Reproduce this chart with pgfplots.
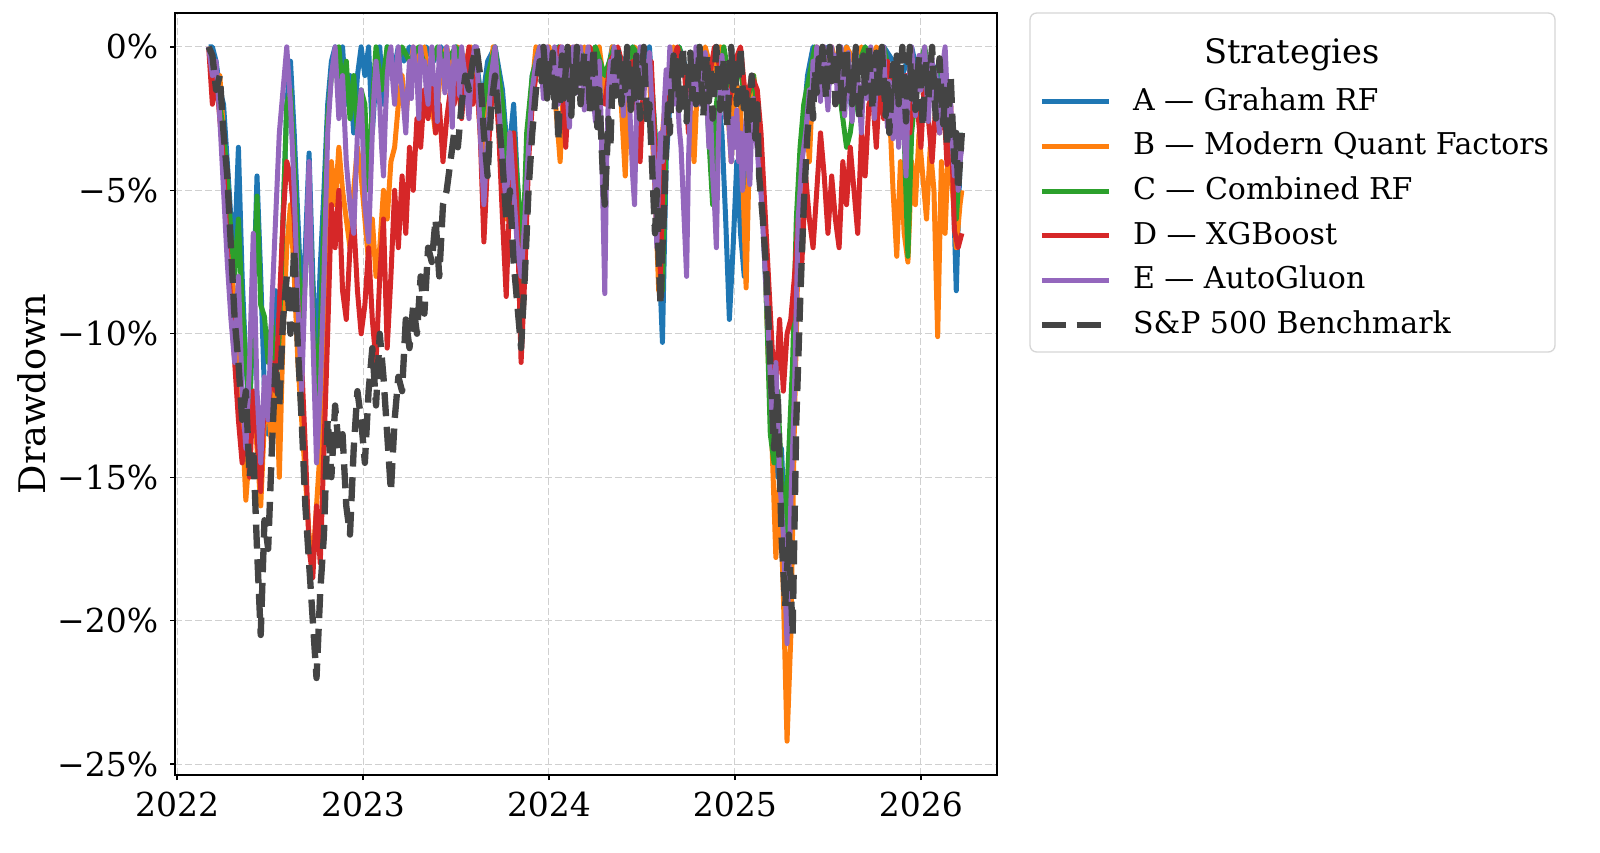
\documentclass[border=0pt]{standalone}
\usepackage{fontspec}
\setmainfont{DejaVu Serif}
\usepackage{pgfplots}
\pgfplotsset{compat=1.18}
\definecolor{cA}{HTML}{1F77B4}
\definecolor{cB}{HTML}{FF7F0E}
\definecolor{cC}{HTML}{2CA02C}
\definecolor{cD}{HTML}{D62728}
\definecolor{cE}{HTML}{9467BD}
\definecolor{cS}{HTML}{444444}
\definecolor{gridc}{HTML}{D0D0D0}
\definecolor{legc}{HTML}{D6D6D6}
\begin{document}
\begin{tikzpicture}
\path[use as bounding box] (-52.5pt,-23.1pt) rectangle (427.5pt,232.5pt);
\begin{axis}[
  scale only axis, width=246.6pt, height=228.6pt,
  xmin=2021.989, xmax=2026.409, ymin=-25.38, ymax=1.18,
  xtick={2022,2023,2024,2025,2026}, xticklabels={2022,2023,2024,2025,2026},
  ytick={-25,-20,-15,-10,-5,0},
  yticklabels={−25\%,−20\%,−15\%,−10\%,−5\%,0\%},
  tick label style={font=\fontsize{9.9}{11}\selectfont},
  tick align=outside, major tick length=1.5pt,
  tick style={black, line width=0.4pt},
  xtick pos=bottom, ytick pos=left,
  axis line style={black, line width=0.5pt},
  grid=major, major grid style={draw=gridc, dash pattern=on 2pt off 1pt, line width=0.3pt},
  ylabel={Drawdown},
  ylabel style={at={(axis description cs:-0.174,0.5)}, anchor=center, font=\fontsize{11}{13}\selectfont},
  legend cell align=left,
  legend image code/.code={\draw[#1] (0pt,0pt) -- (20.1pt,0pt);},
  legend style={at={(rel axis cs:1.0499,0.9064)}, anchor=north west, draw=none, fill=none,
    inner sep=0pt, row sep=3.4pt, font=\fontsize{9.0}{11}\selectfont,
    nodes={inner sep=0pt, text height=7.5pt, text depth=2.5pt},
    /tikz/every odd column/.append style={column sep=6.3pt}},
  every axis plot/.append style={line join=round, mark=none},
]
\addplot[cA, line width=1.5pt] coordinates {
(2022.17,0) (2022.19,0) (2022.21,-0.5) (2022.23,-1.5) (2022.25,-2) (2022.27,-4) (2022.29,-6) (2022.31,-7)
(2022.33,-3.5) (2022.35,-8) (2022.37,-11) (2022.39,-13) (2022.41,-9) (2022.43,-4.5) (2022.45,-8) (2022.47,-12)
(2022.49,-13.5) (2022.51,-11) (2022.53,-8.5) (2022.55,-10) (2022.57,-6) (2022.59,-2) (2022.61,-0.5) (2022.63,-3)
(2022.65,-6) (2022.67,-9) (2022.69,-7) (2022.71,-3.7) (2022.73,-8) (2022.75,-11) (2022.77,-7.7) (2022.79,-5)
(2022.81,-2) (2022.83,-0.5) (2022.85,0) (2022.87,-1.5) (2022.89,0) (2022.91,-2) (2022.93,-1) (2022.95,-3)
(2022.97,-1) (2022.99,0) (2023.01,-1) (2023.03,0) (2023.05,-3) (2023.07,-1) (2023.09,0) (2023.11,-2)
(2023.13,0) (2023.16,-1) (2023.19,0) (2023.22,-0.5) (2023.25,0) (2023.30,-1) (2023.34,0) (2023.38,-0.5)
(2023.42,0) (2023.46,-1) (2023.50,0) (2023.55,-0.5) (2023.60,0) (2023.64,-2) (2023.67,-0.5) (2023.71,0)
(2023.75,-1.5) (2023.78,-4) (2023.81,-2) (2023.84,-6) (2023.86,-8) (2023.88,-4) (2023.91,-1) (2023.95,0)
(2024.00,-0.5) (2024.05,0) (2024.10,-1) (2024.15,0) (2024.20,-0.5) (2024.25,0) (2024.30,-1.5) (2024.34,0)
(2024.40,-0.5) (2024.45,0) (2024.50,-1) (2024.54,0) (2024.57,-3) (2024.59,-7) (2024.61,-10.3) (2024.63,-4)
(2024.66,-1) (2024.70,0) (2024.75,-1) (2024.80,0) (2024.85,-0.5) (2024.90,-1) (2024.93,-3) (2024.95,-6)
(2024.97,-9.5) (2024.99,-7) (2025.01,-4) (2025.03,-6.5) (2025.05,-8) (2025.07,-3) (2025.09,-1) (2025.11,-2)
(2025.13,-4) (2025.15,-6) (2025.17,-9) (2025.19,-11.5) (2025.21,-13) (2025.23,-15) (2025.25,-14) (2025.27,-17)
(2025.29,-16) (2025.31,-12) (2025.33,-7) (2025.35,-4) (2025.37,-2.5) (2025.39,-1) (2025.42,0) (2025.46,-0.5)
(2025.50,0) (2025.55,-1) (2025.60,0) (2025.63,-2.5) (2025.66,-0.5) (2025.70,0) (2025.75,-1) (2025.80,0)
(2025.85,-0.5) (2025.90,-1) (2025.95,0) (2026.00,-1.5) (2026.05,-0.5) (2026.10,-1) (2026.14,-2) (2026.17,-4)
(2026.19,-8.5) (2026.21,-4) (2026.22,-3)
};
\addlegendentry{A — Graham RF}
\addplot[cB, line width=1.5pt] coordinates {
(2022.17,0) (2022.19,-0.5) (2022.21,-1.5) (2022.23,-1) (2022.25,-3) (2022.27,-5) (2022.29,-7.5) (2022.31,-9)
(2022.33,-11) (2022.35,-13) (2022.37,-15.8) (2022.39,-14) (2022.41,-12) (2022.43,-14) (2022.45,-16) (2022.47,-13)
(2022.49,-12.5) (2022.51,-14) (2022.53,-11) (2022.55,-15) (2022.57,-10) (2022.59,-7) (2022.61,-5.5) (2022.63,-8)
(2022.65,-11) (2022.67,-13) (2022.69,-15) (2022.71,-17) (2022.73,-18) (2022.75,-16) (2022.77,-14) (2022.79,-11)
(2022.81,-8) (2022.83,-4) (2022.85,-5.5) (2022.87,-3.5) (2022.89,-5) (2022.91,-6) (2022.93,-7) (2022.95,-5)
(2022.97,-3.5) (2022.99,-4.5) (2023.01,-6) (2023.03,-7.5) (2023.05,-6) (2023.07,-8) (2023.09,-7) (2023.11,-5)
(2023.13,-6) (2023.15,-4) (2023.17,-3.5) (2023.19,-2) (2023.21,-1) (2023.23,-2.5) (2023.25,-1) (2023.27,0)
(2023.30,-0.5) (2023.33,0) (2023.36,-1.5) (2023.39,-3) (2023.42,-0.5) (2023.45,0) (2023.48,-1) (2023.51,0)
(2023.55,-0.5) (2023.58,0) (2023.62,-2) (2023.65,-5) (2023.67,-2) (2023.70,0) (2023.74,-1.5) (2023.77,-6)
(2023.79,-3) (2023.82,-5) (2023.85,-9) (2023.87,-6) (2023.90,-2) (2023.93,0) (2023.97,-1) (2024.00,0)
(2024.03,-1.5) (2024.06,-4) (2024.08,-1) (2024.11,0) (2024.15,-0.5) (2024.19,0) (2024.23,-1) (2024.27,0)
(2024.31,-2) (2024.34,0) (2024.38,-1) (2024.41,-4.5) (2024.43,-1) (2024.46,0) (2024.50,-0.5) (2024.54,-1)
(2024.57,-5) (2024.59,-8.5) (2024.61,-3) (2024.64,-1) (2024.67,0) (2024.71,-0.5) (2024.75,-1) (2024.78,-4)
(2024.80,-1) (2024.84,0) (2024.88,-1) (2024.92,0) (2024.96,-2) (2024.98,-4) (2025.00,-1) (2025.03,-2)
(2025.06,-8.4) (2025.08,-3) (2025.10,-1) (2025.12,-2) (2025.14,-4) (2025.16,-7) (2025.18,-11) (2025.20,-14)
(2025.22,-17.8) (2025.24,-15) (2025.26,-19) (2025.28,-24.2) (2025.30,-20.6) (2025.32,-13) (2025.34,-7) (2025.36,-4)
(2025.38,-2) (2025.40,-4) (2025.42,-1) (2025.44,0) (2025.48,-0.5) (2025.52,0) (2025.56,-1) (2025.60,0)
(2025.64,-0.5) (2025.68,0) (2025.72,-1) (2025.76,0) (2025.80,-0.5) (2025.83,-2) (2025.85,-5) (2025.87,-7.3)
(2025.89,-4) (2025.91,-6.5) (2025.93,-7.5) (2025.95,-4) (2025.97,-5.5) (2025.99,-3) (2026.01,-4.5) (2026.03,-6)
(2026.05,-3.5) (2026.07,-5) (2026.09,-10.1) (2026.11,-4) (2026.13,-6.5) (2026.15,-3) (2026.17,-5) (2026.19,-7)
(2026.21,-5.5) (2026.22,-5)
};
\addlegendentry{B — Modern Quant Factors}
\addplot[cC, line width=1.5pt] coordinates {
(2022.17,0) (2022.19,-0.5) (2022.21,-1) (2022.23,-2) (2022.25,-3) (2022.27,-4.5) (2022.29,-6.5) (2022.31,-8)
(2022.33,-6) (2022.35,-9) (2022.37,-11) (2022.39,-12.5) (2022.41,-9) (2022.43,-5.2) (2022.45,-9) (2022.47,-9.4)
(2022.49,-11) (2022.51,-9.5) (2022.53,-12) (2022.55,-10) (2022.57,-6) (2022.59,-2) (2022.61,-1.5) (2022.63,-4)
(2022.65,-7) (2022.67,-10) (2022.69,-8) (2022.71,-5) (2022.73,-9) (2022.75,-12.5) (2022.77,-10) (2022.79,-6)
(2022.81,-2.5) (2022.83,-1) (2022.85,-0.5) (2022.87,0) (2022.89,-1.5) (2022.91,-0.5) (2022.93,-2.5) (2022.95,-1)
(2022.97,-3) (2022.99,-1.5) (2023.01,-2) (2023.03,-5) (2023.05,-2) (2023.07,0) (2023.10,-1.5) (2023.13,0)
(2023.17,-1) (2023.21,0) (2023.25,-0.5) (2023.30,0) (2023.35,-1) (2023.40,0) (2023.45,-0.5) (2023.50,0)
(2023.55,-1) (2023.60,0) (2023.64,-2.5) (2023.67,-1) (2023.71,0) (2023.75,-2) (2023.78,-4.5) (2023.81,-3)
(2023.84,-5.5) (2023.86,-7) (2023.88,-3) (2023.91,-1) (2023.95,0) (2024.00,-0.5) (2024.05,0) (2024.10,-1)
(2024.15,0) (2024.20,-0.5) (2024.25,0) (2024.30,-1) (2024.35,0) (2024.40,-1.5) (2024.45,0) (2024.50,-0.5)
(2024.55,-1) (2024.57,-3) (2024.59,-6) (2024.61,-8.5) (2024.63,-3) (2024.66,-0.5) (2024.70,0) (2024.75,-1.5)
(2024.80,0) (2024.84,-1) (2024.88,-5.5) (2024.90,-2) (2024.94,0) (2024.98,-1.5) (2025.02,-0.5) (2025.06,-2)
(2025.10,-1) (2025.13,-3) (2025.15,-5) (2025.17,-9) (2025.19,-13.5) (2025.21,-14.5) (2025.23,-12) (2025.25,-15)
(2025.27,-17) (2025.29,-14) (2025.31,-11) (2025.33,-6) (2025.35,-3.5) (2025.37,-2) (2025.40,-1) (2025.43,0)
(2025.47,-0.5) (2025.51,0) (2025.55,-1) (2025.58,-2.5) (2025.60,-3.5) (2025.62,-3) (2025.64,-2) (2025.67,-0.5)
(2025.70,0) (2025.75,-1) (2025.80,0) (2025.85,-1.5) (2025.88,-3) (2025.90,-1) (2025.93,-7.3) (2025.95,-3)
(2025.98,-1) (2026.02,0) (2026.06,-1.5) (2026.10,-0.5) (2026.14,-2) (2026.17,-3) (2026.19,-6) (2026.21,-4)
(2026.22,-3)
};
\addlegendentry{C — Combined RF}
\addplot[cD, line width=1.5pt] coordinates {
(2022.17,0) (2022.19,-2) (2022.21,-1) (2022.23,-2.5) (2022.25,-4) (2022.27,-7) (2022.29,-9) (2022.31,-11)
(2022.33,-13) (2022.35,-14.5) (2022.37,-13) (2022.39,-15) (2022.41,-12) (2022.43,-13.5) (2022.45,-15.5) (2022.47,-12)
(2022.49,-13) (2022.51,-11) (2022.53,-12) (2022.55,-9) (2022.57,-6) (2022.59,-4) (2022.61,-4.5) (2022.63,-6)
(2022.65,-9) (2022.67,-11) (2022.69,-14) (2022.71,-17.5) (2022.73,-18.5) (2022.75,-16) (2022.77,-18) (2022.79,-14)
(2022.81,-10) (2022.83,-5.5) (2022.85,-7) (2022.87,-5) (2022.89,-8.5) (2022.91,-9.5) (2022.93,-7) (2022.95,-6)
(2022.97,-8.5) (2022.99,-10) (2023.01,-9) (2023.03,-7) (2023.05,-9.5) (2023.07,-11) (2023.09,-8) (2023.11,-6)
(2023.13,-10.5) (2023.15,-8) (2023.17,-5) (2023.19,-7) (2023.21,-4.5) (2023.23,-6.5) (2023.25,-3.5) (2023.27,-5)
(2023.29,-2.5) (2023.31,-3.5) (2023.33,-1.5) (2023.35,-2.5) (2023.37,-1) (2023.39,-3) (2023.41,-2) (2023.43,-4)
(2023.45,-2.5) (2023.47,-1.5) (2023.49,-2) (2023.51,-1) (2023.53,-2.5) (2023.55,-1) (2023.57,0) (2023.59,-2)
(2023.61,-1) (2023.63,-3) (2023.65,-6.8) (2023.67,-4) (2023.69,-2) (2023.71,-1) (2023.73,-3) (2023.75,-6)
(2023.77,-8.7) (2023.79,-5) (2023.81,-3) (2023.83,-6) (2023.85,-11) (2023.87,-8) (2023.89,-4) (2023.91,-2)
(2023.93,-1) (2023.95,-0.5) (2023.97,0) (2024.00,-0.5) (2024.03,-1) (2024.06,0) (2024.09,-3.5) (2024.11,-1)
(2024.14,0) (2024.18,-1) (2024.22,0) (2024.26,-1.5) (2024.30,-2) (2024.33,-0.5) (2024.37,0) (2024.41,-1)
(2024.45,-0.5) (2024.49,-4) (2024.51,-1) (2024.55,-0.5) (2024.58,-5) (2024.60,-8) (2024.62,-3) (2024.65,-1)
(2024.69,0) (2024.73,-1) (2024.75,-3) (2024.77,-0.5) (2024.81,0) (2024.85,-1.5) (2024.89,0) (2024.93,-1)
(2024.97,-2) (2025.00,-0.5) (2025.03,0) (2025.06,-2) (2025.09,-1) (2025.12,-1.5) (2025.14,-3) (2025.16,-5.5)
(2025.18,-8) (2025.20,-10.5) (2025.22,-12) (2025.24,-9.5) (2025.26,-12) (2025.28,-10) (2025.30,-9.5) (2025.32,-8)
(2025.34,-6) (2025.36,-7.5) (2025.38,-4.5) (2025.40,-6) (2025.42,-7) (2025.44,-5) (2025.46,-3) (2025.48,-4.5)
(2025.50,-6.5) (2025.52,-4.5) (2025.54,-6) (2025.56,-7) (2025.58,-4) (2025.60,-5.5) (2025.62,-3.5) (2025.64,-5)
(2025.66,-6.5) (2025.68,-3) (2025.70,-4.5) (2025.72,-2) (2025.74,-1.7) (2025.76,-3.5) (2025.78,-1) (2025.80,-2.5)
(2025.82,-0.5) (2025.84,-1.5) (2025.86,-2) (2025.88,-1) (2025.90,-2.5) (2025.92,-1) (2025.94,-3) (2025.96,-1.5)
(2025.98,-2) (2026.00,-3.5) (2026.02,-1) (2026.04,-2.5) (2026.06,-4) (2026.08,-2) (2026.10,-3) (2026.12,-1.5)
(2026.14,-4.1) (2026.16,-2) (2026.18,-6.4) (2026.20,-7) (2026.22,-6.5)
};
\addlegendentry{D — XGBoost}
\addplot[cE, line width=1.5pt] coordinates {
(2022.17,0) (2022.19,-1) (2022.21,-0.5) (2022.23,-2.5) (2022.25,-5) (2022.27,-7.5) (2022.29,-9.5) (2022.31,-11)
(2022.33,-8) (2022.35,-12) (2022.37,-14) (2022.39,-11) (2022.41,-6.5) (2022.43,-12) (2022.45,-14.5) (2022.47,-11.5)
(2022.49,-13) (2022.51,-9) (2022.53,-6) (2022.55,-3) (2022.57,-1.5) (2022.59,0) (2022.61,-2) (2022.63,-5)
(2022.65,-9) (2022.67,-12) (2022.69,-8) (2022.71,-4) (2022.73,-10) (2022.75,-14.5) (2022.77,-12) (2022.79,-8)
(2022.81,-3) (2022.83,-1) (2022.85,0) (2022.87,-2.5) (2022.89,-1) (2022.91,-4) (2022.93,-5.5) (2022.95,-6.5)
(2022.97,-3) (2022.99,-1.5) (2023.01,-5.5) (2023.03,-6.8)
(2023.05,-3) (2023.06,-1.5) (2023.07,-0.5) (2023.08,-1.2) (2023.09,-2) (2023.10,-3.5) (2023.11,-4.5) (2023.12,-2.5)
(2023.13,-1) (2023.14,-0.3) (2023.15,0) (2023.16,-1.2) (2023.17,-2) (2023.18,-0.8) (2023.19,0) (2023.20,-1)
(2023.21,-1.5) (2023.22,-2.2) (2023.23,-3) (2023.24,-1.5) (2023.25,-0.5) (2023.26,-1.8) (2023.27,0) (2023.28,-0.6)
(2023.29,-1) (2023.30,-2.5) (2023.31,0) (2023.32,-0.8) (2023.33,-0.5) (2023.34,-1.5) (2023.35,-2) (2023.36,-0.7)
(2023.37,0) (2023.38,-1.3) (2023.39,-1) (2023.40,-2.6) (2023.41,0) (2023.42,-0.9) (2023.43,-0.5) (2023.44,-1.6)
(2023.45,0) (2023.46,-0.8) (2023.47,-1.5) (2023.48,-2.8) (2023.49,0) (2023.50,-1.1) (2023.51,-0.5) (2023.52,-1.7)
(2023.53,0) (2023.54,-0.6) (2023.55,-1) (2023.56,-1.8) (2023.57,-2.5) (2023.58,-1.2) (2023.59,-0.5) (2023.60,0)
(2023.61,0) (2023.63,-3) (2023.65,-5.5) (2023.67,-3) (2023.69,-1) (2023.71,0) (2023.73,-2) (2023.75,-4)
(2023.77,-5.5) (2023.79,-3) (2023.81,-5) (2023.83,-7) (2023.85,-8) (2023.87,-6) (2023.89,-3.5) (2023.91,-1.5)
(2023.93,-0.5)
(2023.95,0) (2023.96,-0.8) (2023.97,-1.8) (2023.98,-0.4) (2023.99,0) (2024.00,-1.2) (2024.01,-0.3) (2024.02,-1.5)
(2024.03,0) (2024.04,-0.9) (2024.05,-2) (2024.06,-0.6) (2024.07,0) (2024.08,-1.4) (2024.09,-0.5) (2024.10,-1.8)
(2024.11,-2.8) (2024.12,-1) (2024.13,0) (2024.14,-0.7) (2024.15,-1.6) (2024.16,-0.3) (2024.17,0) (2024.18,-1.2)
(2024.19,-2.2) (2024.20,-0.8) (2024.21,0) (2024.22,-1) (2024.23,-0.4) (2024.24,-1.9) (2024.25,-2.6) (2024.26,-1.2)
(2024.27,-0.5) (2024.28,-2.5) (2024.29,-5.5) (2024.30,-8.6) (2024.31,-4) (2024.32,-1.5) (2024.33,-0.5) (2024.34,-1.8)
(2024.35,0) (2024.36,-0.6) (2024.37,-1.6) (2024.38,-0.4) (2024.39,-1.2) (2024.40,-2.4) (2024.41,-0.8) (2024.42,0)
(2024.43,-1.5) (2024.44,-3) (2024.45,-4.5) (2024.46,-5.5) (2024.47,-2.5) (2024.48,-1) (2024.49,0) (2024.50,-0.7)
(2024.51,-1.8) (2024.52,-0.5) (2024.53,-1.3) (2024.54,-0.2) (2024.55,-1.6) (2024.56,-3) (2024.57,-5) (2024.58,-7)
(2024.59,-4.5) (2024.60,-3) (2024.61,-4) (2024.62,-2) (2024.63,-0.8) (2024.64,-1.6) (2024.65,0) (2024.66,-0.9)
(2024.67,-2) (2024.68,-0.7) (2024.69,-1.5) (2024.70,-2.8) (2024.71,-3.5) (2024.72,-5) (2024.73,-6.5) (2024.74,-8)
(2024.75,-4) (2024.76,-2) (2024.77,-0.8) (2024.78,-1.6) (2024.79,0) (2024.80,-1) (2024.81,-2) (2024.82,-0.5)
(2024.83,-1.3) (2024.84,-0.2) (2024.85,-2) (2024.86,-3.5) (2024.87,-2.5) (2024.88,-4.5) (2024.89,-5.5) (2024.90,-7)
(2024.91,-3.5) (2024.92,-1.5) (2024.93,-0.3) (2024.94,-1.2) (2024.95,-2.5) (2024.96,-1.5) (2024.97,-3) (2024.98,-4)
(2024.99,-2.5) (2025.00,-3.5) (2025.01,-2.2) (2025.02,-4) (2025.03,-3) (2025.04,-5) (2025.05,-3.5) (2025.06,-2.5)
(2025.07,-4) (2025.08,-4.8) (2025.09,-2.8) (2025.10,-1.8) (2025.11,-3) (2025.12,-3.6) (2025.13,-4.5) (2025.14,-5)
(2025.16,-7.5) (2025.18,-10) (2025.20,-13) (2025.22,-11) (2025.24,-15) (2025.26,-17) (2025.28,-20.8) (2025.30,-16)
(2025.32,-12) (2025.34,-6) (2025.36,-4) (2025.38,-3)
(2025.40,-1.5) (2025.41,-2.5) (2025.42,-0.5) (2025.43,-1.2) (2025.44,0) (2025.45,-0.8) (2025.46,-1.9) (2025.47,-0.6)
(2025.48,0) (2025.49,-1.4) (2025.50,-2.2) (2025.51,-0.7) (2025.52,0) (2025.53,-1) (2025.54,-0.3) (2025.55,-1.7)
(2025.56,-0.8) (2025.57,0) (2025.58,-1.2) (2025.59,-2.4) (2025.60,-1) (2025.61,-0.2) (2025.62,-1.5) (2025.63,-2.6)
(2025.64,-0.9) (2025.65,0) (2025.66,-1.1) (2025.67,-2) (2025.68,-3) (2025.69,-1.4) (2025.70,-0.5) (2025.71,-1.8)
(2025.72,-0.6) (2025.73,0) (2025.74,-1.3) (2025.75,-2.5) (2025.76,-1.1) (2025.77,-0.3) (2025.78,-1.6) (2025.79,-0.5)
(2025.80,0) (2025.81,-1.8) (2025.82,-2.8) (2025.83,-1.2) (2025.84,-2.5) (2025.85,-3.2) (2025.86,-1.5) (2025.87,-0.6)
(2025.88,-3.5) (2025.89,-2.2) (2025.90,-1) (2025.91,-3) (2025.92,-4.5) (2025.93,-2) (2025.94,-0.8) (2025.95,0)
(2025.96,-1.2) (2025.97,-2.4) (2025.98,-1) (2025.99,-0.3) (2026.00,-1.5) (2026.01,-0.6) (2026.02,0) (2026.03,-1.4)
(2026.04,-2.6) (2026.05,-1.2) (2026.06,-0.4) (2026.07,-1.8) (2026.08,-0.9) (2026.09,-2.3) (2026.10,-3) (2026.11,-1.5)
(2026.12,-0.5) (2026.13,0) (2026.14,-1.5) (2026.15,-2.8) (2026.16,-2) (2026.17,-3.5) (2026.18,-4.5) (2026.19,-3)
(2026.20,-5) (2026.21,-4) (2026.22,-3.5)
};
\addlegendentry{E — AutoGluon}
\addplot[cS, line width=1.9pt, dash pattern=on 7.2pt off 3.2pt] coordinates {
(2022.17,0) (2022.19,-0.3) (2022.21,-1.5) (2022.23,-1) (2022.25,-3) (2022.27,-4.5) (2022.29,-7) (2022.31,-9.5)
(2022.33,-11) (2022.35,-13) (2022.37,-12) (2022.39,-15) (2022.41,-14) (2022.43,-17.5) (2022.45,-20.5) (2022.47,-16.5)
(2022.49,-17.5) (2022.51,-14) (2022.53,-11) (2022.55,-12.5) (2022.57,-9.5) (2022.59,-8) (2022.61,-10) (2022.63,-7)
(2022.65,-10.5) (2022.67,-13) (2022.69,-16) (2022.71,-18) (2022.73,-20) (2022.75,-22) (2022.77,-19) (2022.79,-17)
(2022.81,-13) (2022.83,-15) (2022.85,-12.5) (2022.87,-14) (2022.89,-13.5) (2022.91,-16) (2022.93,-17) (2022.95,-14)
(2022.97,-12) (2022.99,-13) (2023.01,-14.5) (2023.03,-12) (2023.05,-10.5) (2023.07,-12.5) (2023.09,-10) (2023.11,-11.5)
(2023.13,-13.5) (2023.15,-15.5) (2023.17,-13) (2023.19,-11.5) (2023.21,-12) (2023.23,-9.5) (2023.25,-10.5) (2023.27,-9)
(2023.29,-10) (2023.31,-8) (2023.33,-9.3) (2023.35,-7) (2023.37,-7.5) (2023.39,-6) (2023.41,-8) (2023.43,-5.5)
(2023.45,-5) (2023.47,-4) (2023.49,-3) (2023.51,-3.5) (2023.53,-2) (2023.55,-1) (2023.57,-1.5) (2023.59,-0.5)
(2023.61,0) (2023.63,-1) (2023.65,-3) (2023.67,-4.5) (2023.69,-2) (2023.71,-1) (2023.73,-2.5) (2023.75,-4)
(2023.77,-6) (2023.79,-5) (2023.81,-7.5) (2023.83,-9) (2023.85,-10.5) (2023.87,-8) (2023.89,-5) (2023.91,-3)
(2023.93,-1.5)
(2023.95,-0.5) (2023.96,-1.2) (2023.97,0) (2023.98,-0.8) (2023.99,-1.8) (2024.00,-0.6) (2024.01,-1.5) (2024.02,-0.2)
(2024.03,-2.2) (2024.04,-1) (2024.05,-3.3) (2024.06,-1.5) (2024.07,-0.3) (2024.08,-1.8) (2024.09,-0.8) (2024.10,0)
(2024.11,-1.4) (2024.12,-2.4) (2024.13,-0.7) (2024.14,-1.6) (2024.15,0) (2024.16,-0.9) (2024.17,-2) (2024.18,-1)
(2024.19,-0.2) (2024.20,-1.5) (2024.21,-0.6) (2024.22,-2.3) (2024.23,-1.2) (2024.24,0) (2024.25,-1.6) (2024.26,-2.8)
(2024.27,-1.5) (2024.28,-3) (2024.29,-4.5) (2024.30,-5.5) (2024.31,-4) (2024.32,-2.5) (2024.33,-3.5) (2024.34,-1.5)
(2024.35,-0.5) (2024.36,-1.7) (2024.37,0) (2024.38,-0.8) (2024.39,-2) (2024.40,-0.6) (2024.41,-1.5) (2024.42,0)
(2024.43,-1) (2024.44,-2.2) (2024.45,-0.8) (2024.46,-1.8) (2024.47,-0.3) (2024.48,-1.2) (2024.49,-2.5) (2024.50,-1)
(2024.51,0) (2024.52,-1.5) (2024.53,-2.8) (2024.54,-2) (2024.55,-3.5) (2024.56,-5) (2024.57,-6.5) (2024.58,-5)
(2024.59,-7.5) (2024.60,-9) (2024.61,-7) (2024.62,-5.5) (2024.63,-3.5) (2024.64,-2) (2024.65,-3) (2024.66,-1.2)
(2024.67,-0.3) (2024.68,-1.6) (2024.69,-0.5) (2024.70,-2.2) (2024.71,-1) (2024.72,0) (2024.73,-1.5) (2024.74,-2.6)
(2024.75,-1.1) (2024.76,-0.2) (2024.77,-1.8) (2024.78,-0.7) (2024.79,-2) (2024.80,-1) (2024.81,0) (2024.82,-1.3)
(2024.83,-2.4) (2024.84,-1) (2024.85,-0.3) (2024.86,-1.9) (2024.87,-0.8) (2024.88,-2.5) (2024.89,-1.2) (2024.90,0)
(2024.91,-1) (2024.92,-2.2) (2024.93,-1.4) (2024.94,-0.4) (2024.95,-1.7) (2024.96,-2.8) (2024.97,-1) (2024.98,0)
(2024.99,-1.5) (2025.00,-0.6) (2025.01,-2) (2025.02,-1) (2025.03,0) (2025.04,-1.3) (2025.05,-2.4) (2025.06,-1.6)
(2025.07,-3) (2025.08,-2) (2025.09,-1) (2025.10,-2.5) (2025.11,-3.2) (2025.12,-2) (2025.13,-4.5)
(2025.15,-6) (2025.17,-8) (2025.19,-11) (2025.21,-14) (2025.23,-12) (2025.25,-17) (2025.27,-19.5) (2025.29,-17)
(2025.31,-20.5) (2025.33,-13) (2025.35,-9) (2025.37,-5.5) (2025.39,-3)
(2025.40,-2.2) (2025.41,-1.5) (2025.42,-2.5) (2025.43,-0.8) (2025.44,-1.6) (2025.45,-0.4) (2025.46,-1.2) (2025.47,0)
(2025.48,-0.8) (2025.49,-1.8) (2025.50,-0.5) (2025.51,0) (2025.52,-1.2) (2025.53,-0.3) (2025.54,-2) (2025.55,-1)
(2025.56,0) (2025.57,-1.4) (2025.58,-2.3) (2025.59,-0.8) (2025.60,0) (2025.61,-1.5) (2025.62,-0.6) (2025.63,-2)
(2025.64,-1) (2025.65,0) (2025.66,-1.3) (2025.67,-2.5) (2025.68,-1.2) (2025.69,-0.3) (2025.70,-1.6) (2025.71,-0.6)
(2025.72,0) (2025.73,-1.1) (2025.74,-2.2) (2025.75,-0.9) (2025.76,-0.2) (2025.77,-1.7) (2025.78,-0.5) (2025.79,0)
(2025.80,-1.2) (2025.81,-2.4) (2025.82,-1.3) (2025.83,-3) (2025.84,-1.8) (2025.85,-0.6) (2025.86,-1.5) (2025.87,-0.3)
(2025.88,-2) (2025.89,-1) (2025.90,0) (2025.91,-1.4) (2025.92,-2.6) (2025.93,-1) (2025.94,0) (2025.95,-1.8)
(2025.96,-0.7) (2025.97,-2.2) (2025.98,-1.1) (2025.99,-0.3) (2026.00,-1.6) (2026.01,-2.8) (2026.02,-1.5) (2026.03,-0.5)
(2026.04,-1.9) (2026.05,-0.8) (2026.06,0) (2026.07,-1.3) (2026.08,-2.5) (2026.09,-1.2) (2026.10,-0.4) (2026.11,-1.7)
(2026.12,-2.7) (2026.13,-1.5) (2026.14,-3.5) (2026.15,-2.2) (2026.16,-1) (2026.17,-2.6) (2026.18,-4) (2026.19,-3)
(2026.20,-5) (2026.21,-4) (2026.22,-3)
};
\addlegendentry{S\&P 500 Benchmark}
\end{axis}
\draw[legc, line width=0.4pt, rounded corners=2pt] (256.5pt,126.9pt) rectangle (414pt,228.6pt);
\node[font=\fontsize{10.1}{12}\selectfont] at (335.1pt,216pt) {Strategies};
\end{tikzpicture}
\end{document}
